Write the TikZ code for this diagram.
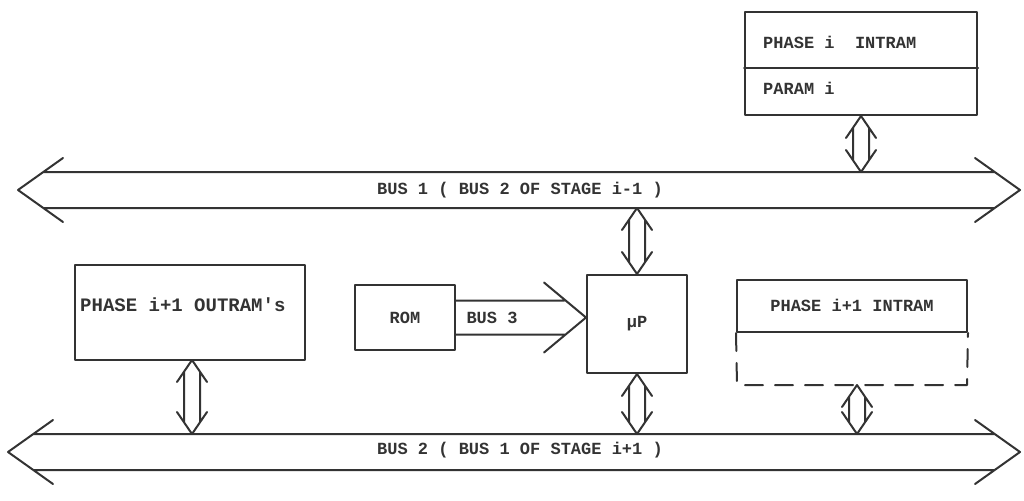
\documentclass[tikz,border=0pt]{standalone}
\usepackage{fontspec}
\setmonofont{Liberation Mono}
\usetikzlibrary{calc}
\definecolor{ink}{gray}{0.2}
\tikzset{
  ln/.style={draw=ink, line width=2pt, line join=round, line cap=round},
  box/.style={ln, rectangle, inner sep=0pt},
  lbl/.style={text=ink, inner sep=0pt, font=\ttfamily\bfseries\fontsize{17}{19}\selectfont},
}
% vertical hollow double arrow between two points with the same x (top, bottom)
\newcommand\vdbl[2]{%
  \draw[ln] let \p1=(#1), \p2=(#2) in
    (\x1-15pt,\y1-22pt) -- (\x1,\y1) -- (\x1+15pt,\y1-22pt)
    (\x1-8pt,\y1-11.7pt) -- (\x1-8pt,\y2+11.7pt)
    (\x1+8pt,\y1-11.7pt) -- (\x1+8pt,\y2+11.7pt)
    (\x1-15pt,\y2+22pt) -- (\x1,\y2) -- (\x1+15pt,\y2+22pt);}
% horizontal hollow bus arrow between left tip and right tip
\newcommand\hbus[2]{%
  \draw[ln] let \p1=(#1), \p2=(#2) in
    (\x1+45pt,\y1+32pt) -- (\x1,\y1) -- (\x1+45pt,\y1-32pt)
    (\x1+25.3pt,\y1+18pt) -- (\x2-25.3pt,\y2+18pt)
    (\x1+25.3pt,\y1-18pt) -- (\x2-25.3pt,\y2-18pt)
    (\x2-45pt,\y2+32pt) -- (\x2,\y2) -- (\x2-45pt,\y2-32pt);}
\begin{document}
\begin{tikzpicture}[x=1pt,y=-1pt]
\useasboundingbox (0,0) rectangle (1024,500);
% buses
\coordinate (b1l) at (18,190);
\coordinate (b1r) at (1020,190);
\coordinate (b1top) at (0,172);
\coordinate (b1bot) at (0,208);
\coordinate (b2l) at (8,452);
\coordinate (b2r) at (1020,452);
\coordinate (b2top) at (0,434);
\hbus{b1l}{b1r}
\hbus{b2l}{b2r}
\node[lbl] (bus1) at (520,190) {BUS 1 ( BUS 2 OF STAGE i-1 )};
\node[lbl] (bus2) at (520,450) {BUS 2 ( BUS 1 OF STAGE i+1 )};
% top-right box
\node[box, minimum width=232pt, minimum height=103pt] (topbox) at (861,63.5) {};
\draw[ln] (topbox.west |- 0,68) coordinate (dl) -- (topbox.east |- dl) coordinate (dr);
\node[lbl, anchor=west] (t1) at (763,42) {PHASE i\ \ INTRAM};
\node[lbl, anchor=west] (t2) at (763,88) {PARAM i};
% uP
\node[box, lbl, minimum width=100pt, minimum height=98pt] (up) at (637,324) {µP};
% ROM
\node[box, lbl, minimum width=100pt, minimum height=65pt] (rom) at (405,317.5) {ROM};
% BUS 3
\draw[ln] let \p1=(rom.east), \p2=(up.west) in
  (\x1,\y1+17pt) -- (\x2-21.6pt,\y1+17pt)
  (\x1,\y1-17pt) -- (\x2-21.6pt,\y1-17pt)
  (\x2-42pt,\y1+35pt) -- (\x2,\y1) -- (\x2-42pt,\y1-35pt);
\node[lbl] (bus3) at (492,318) {BUS 3};
% OUTRAM
\node[box, minimum width=230pt, minimum height=95pt] (outram) at (190,312.5) {};
\node[lbl, anchor=west, font=\ttfamily\bfseries\fontsize{19}{21}\selectfont] (outt) at (80,305) {PHASE i+1 OUTRAM's};
\coordinate (outb) at (192,360);
% INTRAM
\node[box, minimum width=230pt, minimum height=52pt] (intram) at (852,306) {};
\node[lbl] (intt) at (852,305) {PHASE i+1 INTRAM};
\coordinate (inbl) at (737,385);
\coordinate (inbr) at (967,385);
\draw[ln, dash pattern=on 18pt off 12pt] (intram.south west) -- (inbl) -- (inbr) -- (intram.south east);
\coordinate (inbot) at (857,385);
% double arrows
\vdbl{topbox.south}{topbox.south |- b1top}
\vdbl{up.north |- b1bot}{up.north}
\vdbl{outb}{outb |- b2top}
\vdbl{up.south}{up.south |- b2top}
\vdbl{inbot}{inbot |- b2top}
\end{tikzpicture}
\end{document}
